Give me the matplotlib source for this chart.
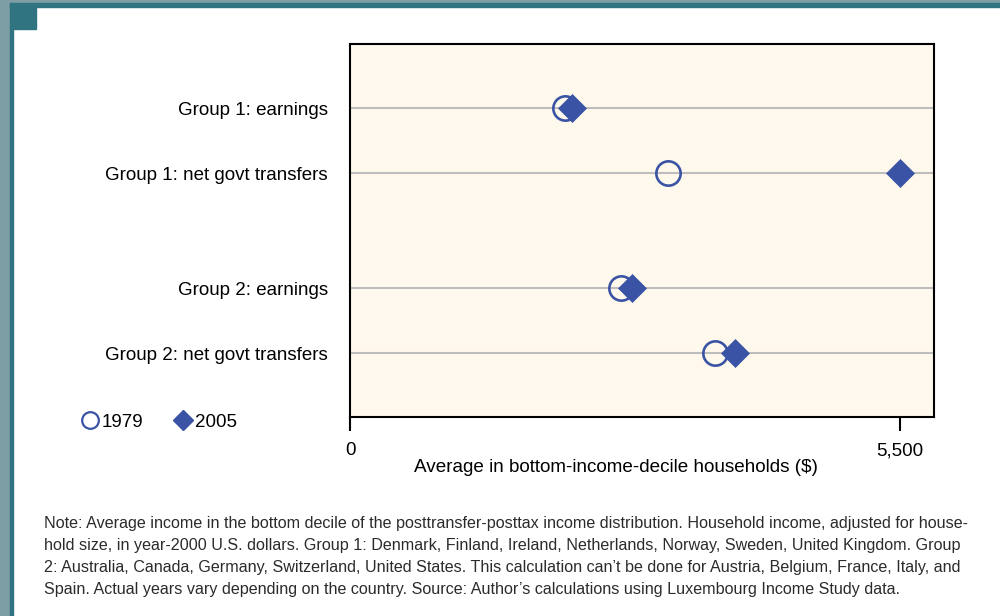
import matplotlib
matplotlib.use("Agg")
import matplotlib.pyplot as plt
from matplotlib.patches import Rectangle
from matplotlib.lines import Line2D

plt.rcParams['font.family'] = ['Liberation Sans', 'DejaVu Sans']

categories = ["Group 1: earnings", "Group 1: net govt transfers",
              "Group 2: earnings", "Group 2: net govt transfers"]
y_pos = [1.0, 2.0, 3.77, 4.77]
vals_1979 = [2150, 3180, 2710, 3650]
vals_2005 = [2220, 5500, 2815, 3850]
series_names = ["1979", "2005"]
xticks = [0, 5500]
xticklabels = ["0", "5,500"]

note = ("Note: Average income in the bottom decile of the posttransfer-posttax income distribution. Household income, adjusted for house-\n"
        "hold size, in year-2000 U.S. dollars. Group 1: Denmark, Finland, Ireland, Netherlands, Norway, Sweden, United Kingdom. Group\n"
        "2: Australia, Canada, Germany, Switzerland, United States. This calculation can\u2019t be done for Austria, Belgium, France, Italy, and\n"
        "Spain. Actual years vary depending on the country. Source: Author\u2019s calculations using Luxembourg Income Study data.")

blue = "#3a53a4"
W, H = 1000, 616
fig = plt.figure(figsize=(W / 100, H / 100), dpi=100)

# frame decoration
def px_rect(x0, y0, x1, y1, color):
    fig.patches.append(Rectangle((x0 / W, 1 - y1 / H), (x1 - x0) / W, (y1 - y0) / H,
                                 transform=fig.transFigure, color=color, zorder=0))

px_rect(0, 0, W, 3, "#7e9ea5")
px_rect(0, 0, 10, H, "#7e9ea5")
px_rect(10, 3, W, 7, "#2f7480")
px_rect(10, 3, 13, H, "#2f7480")
px_rect(12, 7, 36, 29, "#2f7480")

ax = fig.add_axes([350 / W, 1 - 417 / H, (934 - 350) / W, (417 - 44) / H])
ax.set_facecolor("#fef9ec")
ax.set_xlim(0, 5840)
ax.set_ylim(5.75, 0.015)

for y in y_pos:
    ax.axhline(y, color="#bdbdbd", lw=1.5, zorder=1)

ax.plot(vals_1979, y_pos, ls="none", marker="o", ms=17.5, mfc="none", mec=blue, mew=1.9,
        zorder=3, label=series_names[0])
ax.plot(vals_2005, y_pos, ls="none", marker="D", ms=14, mfc=blue, mec=blue, mew=0.5,
        zorder=4, label=series_names[1])

ax.set_yticks(y_pos)
ax.set_yticklabels(categories, fontsize=13.5)
ax.tick_params(axis="y", length=0, pad=16)
ax.set_xticks(xticks)
ax.set_xticklabels(xticklabels, fontsize=13.5)
ax.tick_params(axis="x", length=10, width=1.5, direction="out", pad=8)
for s in ax.spines.values():
    s.set_linewidth(1.5)

fig.text(616 / W, 1 - 467 / H, "Average in bottom-income-decile households ($)",
         ha="center", va="center", fontsize=13.6)

handles = [Line2D([], [], ls="none", marker="o", ms=12, mfc="none", mec=blue, mew=1.6),
           Line2D([], [], ls="none", marker="D", ms=10, mfc=blue, mec=blue)]
fig.legend(handles, series_names, loc="center left", bbox_to_anchor=(77 / W, 1 - 422 / H),
           ncol=2, frameon=False, fontsize=13.5, handletextpad=-0.1, columnspacing=1.45,
           handlelength=1.4, borderaxespad=0, borderpad=0)

fig.text(44 / W, 1 - 516 / H, note, ha="left", va="top", fontsize=11.6,
         color="#2b2b2b", linespacing=1.58)

fig.savefig("out.png", dpi=100)
